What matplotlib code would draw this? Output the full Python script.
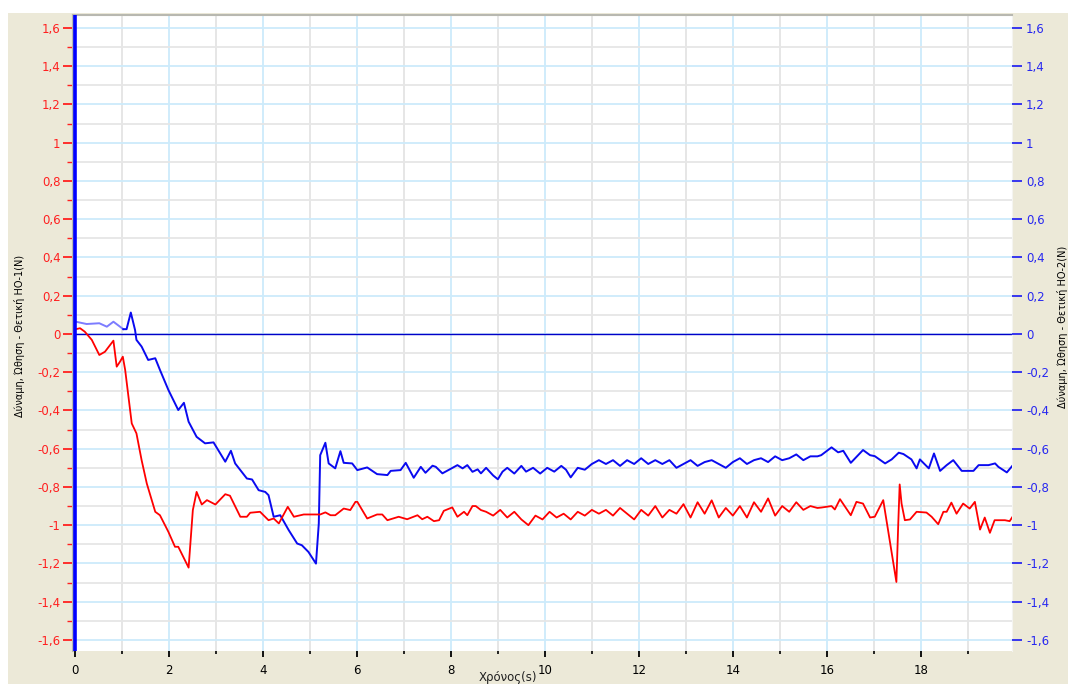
import numpy as np
import matplotlib
matplotlib.use('Agg')
import matplotlib.pyplot as plt
from matplotlib.ticker import MultipleLocator, FuncFormatter
from matplotlib.patches import Rectangle

# Sensor 2 (blue) force vs time
blue_t = [0.02, 0.25, 0.52, 0.68, 0.82, 1.03, 1.10, 1.19, 1.28, 1.31, 1.42, 1.56, 1.71, 1.81,
          1.99, 2.20, 2.32, 2.42, 2.59, 2.77, 2.95, 3.20, 3.32, 3.41, 3.66, 3.77, 3.91, 4.05,
          4.12, 4.23, 4.37, 4.55, 4.73, 4.83, 4.97, 5.13, 5.19, 5.22, 5.33, 5.40, 5.54, 5.65,
          5.72, 5.90, 6.01, 6.22, 6.43, 6.65, 6.72, 6.93, 7.04, 7.21, 7.36, 7.46, 7.61, 7.68,
          7.82, 8.14, 8.25, 8.35, 8.46, 8.57, 8.64,
          8.75, 8.9, 9.0, 9.1, 9.2, 9.35, 9.5, 9.6, 9.75, 9.9, 10.05, 10.2, 10.35, 10.45,
          10.55, 10.7, 10.85, 11.0, 11.15, 11.3, 11.45, 11.6, 11.75, 11.9, 12.05, 12.2,
          12.35, 12.5, 12.65, 12.8, 12.95, 13.1, 13.25, 13.4, 13.55, 13.7, 13.85, 14.0,
          14.15, 14.3, 14.45, 14.6, 14.75, 14.9, 15.05, 15.2, 15.35, 15.5, 15.65, 15.8,
          15.88, 16.10, 16.24, 16.35, 16.51, 16.77, 16.92, 17.02, 17.24, 17.38, 17.53,
          17.63, 17.80, 17.91, 17.98, 18.17, 18.28, 18.41, 18.55, 18.69, 18.87, 19.12,
          19.23, 19.44, 19.58, 19.65, 19.83, 19.96]
blue_v = [0.064, 0.052, 0.056, 0.038, 0.064, 0.025, 0.025, 0.112, 0.021, -0.031, -0.066,
          -0.136, -0.127, -0.188, -0.293, -0.398, -0.36, -0.459, -0.538, -0.572, -0.567,
          -0.668, -0.611, -0.677, -0.756, -0.761, -0.817, -0.826, -0.843, -0.956, -0.948,
          -1.026, -1.096, -1.105, -1.140, -1.201, -0.991, -0.634, -0.569, -0.677, -0.703,
          -0.613, -0.674, -0.677, -0.712, -0.698, -0.733, -0.738, -0.716, -0.712, -0.674,
          -0.752, -0.695, -0.726, -0.689, -0.695, -0.729, -0.686, -0.703, -0.686, -0.721,
          -0.708, -0.729,
          -0.70, -0.74, -0.76, -0.72, -0.70, -0.73, -0.69, -0.72, -0.70, -0.73, -0.70, -0.72,
          -0.69, -0.71, -0.75, -0.70, -0.71, -0.68, -0.66, -0.68, -0.66, -0.69, -0.66, -0.68,
          -0.65, -0.68, -0.66, -0.68, -0.66, -0.70, -0.68, -0.66, -0.69, -0.67, -0.66, -0.68,
          -0.70, -0.67, -0.65, -0.68, -0.66, -0.65, -0.67, -0.64, -0.66, -0.65, -0.63, -0.66,
          -0.64, -0.64,
          -0.634, -0.593, -0.619, -0.611, -0.674, -0.607, -0.634, -0.639, -0.677, -0.656,
          -0.621, -0.628, -0.656, -0.703, -0.656, -0.703, -0.625, -0.716, -0.686, -0.66,
          -0.716, -0.716, -0.686, -0.686, -0.677, -0.695, -0.724, -0.686]

# Sensor 1 (red) force vs time
red_t = [0.02, 0.11, 0.21, 0.36, 0.52, 0.64, 0.82, 0.89, 0.96, 1.02, 1.07, 1.21, 1.31, 1.42,
         1.53, 1.71, 1.81, 1.99, 2.13, 2.20, 2.42, 2.51, 2.59, 2.70, 2.81, 2.99, 3.20, 3.30,
         3.52, 3.66, 3.73, 3.94, 4.12, 4.23, 4.34, 4.53, 4.66, 4.87, 5.22, 5.33, 5.44, 5.54,
         5.72, 5.86, 5.97, 6.01, 6.22, 6.43, 6.54, 6.65, 6.89, 7.07, 7.29, 7.39, 7.50, 7.64,
         7.75, 7.85, 8.03, 8.14, 8.28, 8.35, 8.46, 8.53, 8.64,
         8.75, 8.9, 9.05, 9.2, 9.35, 9.5, 9.65, 9.8, 9.95, 10.1, 10.25, 10.4, 10.55, 10.7,
         10.85, 11.0, 11.15, 11.3, 11.45, 11.6, 11.75, 11.9, 12.05, 12.2, 12.35, 12.5,
         12.65, 12.8, 12.95, 13.1, 13.25, 13.4, 13.55, 13.7, 13.85, 14.0, 14.15, 14.3,
         14.45, 14.6, 14.75, 14.9, 15.05, 15.2, 15.35, 15.5, 15.65, 15.8,
         15.88, 16.10, 16.17, 16.28, 16.51, 16.63, 16.77, 16.92, 17.02, 17.20, 17.48,
         17.52, 17.55, 17.59, 17.66, 17.77, 17.91, 18.12, 18.23, 18.37, 18.48, 18.55,
         18.65, 18.76, 18.90, 19.04, 19.15, 19.26, 19.36, 19.47, 19.57, 19.79, 19.89, 19.96]
red_v = [0.025, 0.03, 0.012, -0.031, -0.11, -0.093, -0.035, -0.171, -0.145, -0.119, -0.188,
         -0.468, -0.52, -0.66, -0.782, -0.93, -0.948, -1.035, -1.113, -1.113, -1.222, -0.921,
         -0.826, -0.892, -0.869, -0.892, -0.838, -0.846, -0.956, -0.956, -0.935, -0.93,
         -0.974, -0.965, -0.991, -0.904, -0.956, -0.944, -0.944, -0.933, -0.948, -0.948,
         -0.913, -0.921, -0.878, -0.878, -0.965, -0.944, -0.944, -0.974, -0.956, -0.969,
         -0.948, -0.969, -0.956, -0.979, -0.974, -0.925, -0.907, -0.956, -0.93, -0.948,
         -0.90, -0.90, -0.921,
         -0.93, -0.95, -0.92, -0.96, -0.93, -0.97, -1.00, -0.95, -0.97, -0.93, -0.96, -0.94,
         -0.97, -0.93, -0.95, -0.92, -0.94, -0.92, -0.95, -0.91, -0.94, -0.97, -0.92, -0.95,
         -0.90, -0.96, -0.92, -0.94, -0.89, -0.96, -0.88, -0.94, -0.87, -0.96, -0.91, -0.95,
         -0.90, -0.96, -0.88, -0.93, -0.86, -0.95, -0.90, -0.93, -0.88, -0.92, -0.90, -0.91,
         -0.908, -0.90, -0.918, -0.864, -0.948, -0.878, -0.887, -0.96, -0.956, -0.869,
         -1.297, -0.991, -0.787, -0.887, -0.974, -0.97, -0.93, -0.934, -0.956, -0.995,
         -0.93, -0.93, -0.882, -0.94, -0.887, -0.913, -0.878, -1.023, -0.96, -1.04, -0.974,
         -0.974, -0.979, -0.953]

x_major = [0, 2, 4, 6, 8, 10, 12, 14, 16, 18]
x_label = 'Χρόνος(s)'
y_left_label = 'Δύναμη, Ώθηση - Θετική ΗΟ-1(Ν)'
y_right_label = 'Δύναμη, Ώθηση - Θετική ΗΟ-2(Ν)'

W, H = 1068, 684
fig = plt.figure(figsize=(W / 100, H / 100), dpi=100, facecolor='white')
fig.patches.append(Rectangle((8 / W, 0), 1, (H - 13) / H, transform=fig.transFigure,
                             facecolor='#ECE9D8', edgecolor='none', zorder=-10))

ax = fig.add_axes([73 / W, (H - 651) / H, (1012 - 73) / W, (651 - 15) / H])
ax.set_facecolor('white')
ax.set_xlim(-0.04, 19.94)
ax.set_ylim(-1.658, 1.668)

# grid: light blue for major, light grey for minor
for xv in range(1, 20):
    ax.axvline(xv, color='#CDEBFB' if xv % 2 == 0 else '#E4E4E4', lw=1.3, zorder=0)
for k in range(-16, 17):
    yv = k / 10
    ax.axhline(yv, color='#CDEBFB' if k % 2 == 0 else '#E6E6E6', lw=1.3, zorder=0)

ax.axhline(0, color='#0000C8', lw=1.0, zorder=2)
ax.axvline(0, color='#0000FF', lw=2.6, zorder=5)

k = 6
ax.plot(blue_t[:k], blue_v[:k], color='#7C7CFF', lw=1.4, zorder=3)
ax.plot(blue_t[k - 1:], blue_v[k - 1:], color='#0A0AF0', lw=1.4, zorder=3)
ax.plot(red_t, red_v, color='#FF0000', lw=1.3, zorder=4)

for s in ['top', 'left']:
    ax.spines[s].set_color('#B8B8B0')
    ax.spines[s].set_linewidth(1.5)
ax.spines['bottom'].set_visible(False)
ax.spines['right'].set_color('#F4F4F0')

fmt = FuncFormatter(lambda v, p: ('%g' % round(v, 1)).replace('.', ','))
ax.yaxis.set_major_locator(MultipleLocator(0.2))
ax.yaxis.set_minor_locator(MultipleLocator(0.1))
ax.yaxis.set_major_formatter(fmt)
ax.tick_params(axis='y', which='major', colors='#FF2020', length=7, width=1.3,
               labelsize=8.5, pad=2)
ax.tick_params(axis='y', which='minor', colors='#FF2020', length=4, width=1.0)

ax.set_xticks(x_major)
ax.xaxis.set_minor_locator(MultipleLocator(1))
ax.tick_params(axis='x', which='major', colors='black', length=4, width=1.3,
               labelsize=8.5, pad=5)
ax.tick_params(axis='x', which='minor', colors='black', length=2, width=1.2)

ax2 = ax.twinx()
ax2.set_ylim(ax.get_ylim())
ax2.yaxis.set_major_locator(MultipleLocator(0.2))
ax2.yaxis.set_major_formatter(fmt)
ax2.tick_params(axis='y', which='major', colors='#2828F0', length=7, width=1.3,
                labelsize=8.5, pad=3)
for s in ax2.spines.values():
    s.set_visible(False)

fig.text(508 / W, 1 - 677 / H, x_label, ha='center', va='center', fontsize=8.5,
         color='#202020')
fig.text(20 / W, 1 - 336 / H, y_left_label, rotation=90, ha='center', va='center',
         fontsize=7, color='black')
fig.text(1062 / W, 1 - 327 / H, y_right_label, rotation=90, ha='center', va='center',
         fontsize=7, color='black')

fig.savefig('out.png', dpi=100, facecolor=fig.get_facecolor())
